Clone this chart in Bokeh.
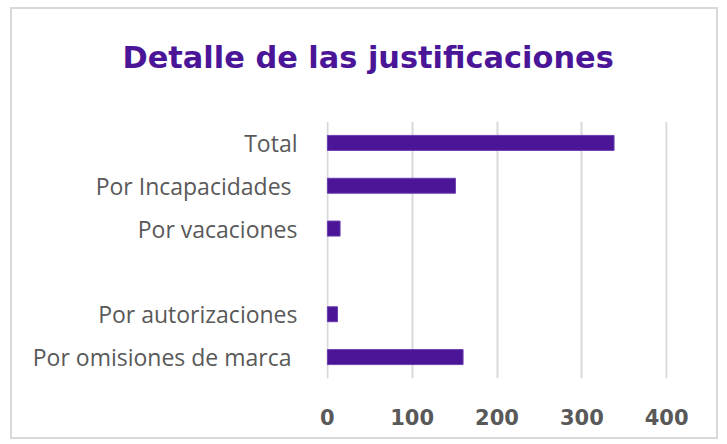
from bokeh.plotting import figure
from bokeh.models import FixedTicker, Title
from bokeh.embed import file_html
from bokeh.resources import INLINE

# Data (bottom to top)
categories = ["Por omisiones de marca ", "Por autorizaciones", " ", "Por vacaciones", "Por Incapacidades ", "Total"]
bar_categories = ["Por omisiones de marca ", "Por autorizaciones", "Por vacaciones", "Por Incapacidades ", "Total"]
bar_values = [160, 12, 15, 151, 338]
x_ticks = [0, 100, 200, 300, 400]
title_text = "Detalle de las justificaciones"

PURPLE = "#4a1597"
GREY = "#595959"

p = figure(
    y_range=categories, x_range=(-1, 401),
    width=708, height=432,
    output_backend="svg", toolbar_location=None,
    min_border_left=314, min_border_right=53, min_border_top=112, min_border_bottom=63,
    margin=(7, 0, 0, 10),
)
p.styles = {"border": "2px solid #d9d9d9"}
p.outline_line_color = None

# empty spacer panel between the frame and the title
p.add_layout(Title(text=" ", text_font_size="20px", standoff=18), "above")
p.add_layout(Title(text=title_text, align="left", offset=-204, standoff=10,
                   text_font="DejaVu Sans", text_font_style="bold",
                   text_font_size="30.4px", text_color=PURPLE), "above")

p.hbar(y=bar_categories, right=bar_values, left=0, height=0.35,
       fill_color=PURPLE, line_color="#6a3fb0", line_width=1)

p.xaxis.ticker = FixedTicker(ticks=x_ticks)
p.xaxis.axis_line_color = None
p.xaxis.major_tick_line_color = None
p.xaxis.minor_tick_line_color = None
p.xaxis.major_label_text_font = "DejaVu Sans"
p.xaxis.major_label_text_font_style = "bold"
p.xaxis.major_label_text_font_size = "21px"
p.xaxis.major_label_text_color = GREY
p.xaxis.major_label_standoff = 24

p.yaxis.axis_line_color = None
p.yaxis.major_tick_line_color = None
p.yaxis.minor_tick_line_color = None
p.yaxis.major_label_text_font = "Open Sans"
p.yaxis.major_label_text_font_size = "23px"
p.yaxis.major_label_text_color = GREY
p.yaxis.major_label_standoff = 23

p.xgrid.grid_line_color = "#d9d9d9"
p.xgrid.grid_line_width = 2
p.ygrid.grid_line_color = None

open("out.html", "w").write(file_html(p, INLINE))
